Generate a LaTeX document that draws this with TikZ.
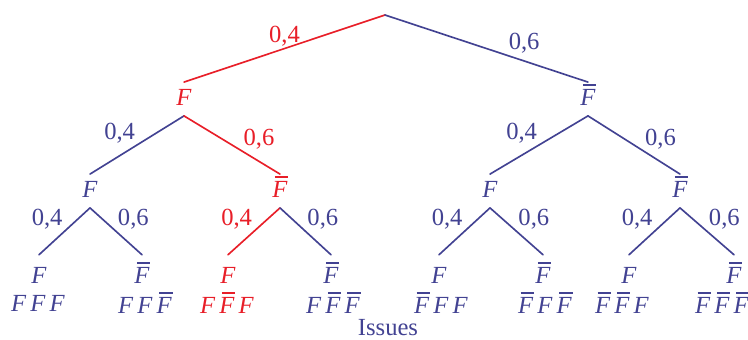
\documentclass[tikz,border=0pt]{standalone}
\usepackage{fontspec}
\setmainfont{Liberation Serif}
\usepackage{tikz}
\definecolor{bleu}{RGB}{66,66,146}
\definecolor{rouge}{RGB}{232,30,40}
\newcommand{\Fi}{\textit{F}}
% F barre : trait pose a la main au-dessus du F italique
\newcommand{\Fb}{\makebox[0pt][l]{\hspace{0.1em}\rule[0.8em]{0.55em}{0.07em}}\textit{F}}
\tikzset{
  etat/.style={text height=0.45cm,text depth=0.05cm,inner xsep=1pt,inner ysep=0.25cm},
  feuille/.style={etat,inner ysep=0.41cm},
  issue/.style={inner sep=1pt},
  branche/.style={line width=1.4pt},
  proba/.style={inner sep=1pt},
}
\begin{document}
\begin{tikzpicture}[line cap=round,line join=round,x=0.03cm,y=0.03cm,bleu,font=\fontsize{21}{24}\selectfont]
\useasboundingbox (0,0) rectangle (748,340);
\coordinate (r) at (385,325);
% premier tirage
\node [etat,rouge] (F) at (184,241) {\Fi};
\node [etat] (B) at (588,241) {\Fb};
% second tirage
\node [etat] (FF) at (90,149) {\Fi};
\node [etat,rouge] (FB) at (280,149) {\Fb};
\node [etat] (BF) at (490,149) {\Fi};
\node [etat] (BB) at (680,149) {\Fb};
% troisieme tirage
\node [feuille] (FFF) at (39,63) {\Fi};
\node [feuille] (FFB) at (142,63) {\Fb};
\node [feuille,rouge] (FBF) at (228,63) {\Fi};
\node [feuille] (FBB) at (331,63) {\Fb};
\node [feuille] (BFF) at (439,63) {\Fi};
\node [feuille] (BFB) at (543,63) {\Fb};
\node [feuille] (BBF) at (629,63) {\Fi};
\node [feuille] (BBB) at (734,63) {\Fb};
% issues
\node [issue] (iFFF) at (38,37) {\Fi\,\Fi\,\Fi};
\node [issue] (iFFB) at (145,37) {\Fi\,\Fi\,\Fb};
\node [issue,rouge] (iFBF) at (227,37) {\Fi\,\Fb\,\Fi};
\node [issue] (iFBB) at (333,37) {\Fi\,\Fb\,\Fb};
\node [issue] (iBFF) at (441,37) {\Fb\,\Fi\,\Fi};
\node [issue] (iBFB) at (545,37) {\Fb\,\Fi\,\Fb};
\node [issue] (iBBF) at (622,37) {\Fb\,\Fb\,\Fi};
\node [issue] (iBBB) at (722,37) {\Fb\,\Fb\,\Fb};
\node (titre) at (388,12) {Issues};
% branches
\draw [branche,rouge] (r) -- node [proba,above] {0,4} (F.north);
\draw [branche] (r) -- node [proba,above right,pos=0.6] {0,6} (B.north);
\draw [branche] (F.south) -- node [proba,above left] {0,4} (FF.north);
\draw [branche,rouge] (F.south) -- node [proba,above right,pos=0.6] {0,6} (FB.north);
\draw [branche] (B.south) -- node [proba,above left] {0,4} (BF.north);
\draw [branche] (B.south) -- node [proba,above right,pos=0.6] {0,6} (BB.north);
\draw [branche] (FF.south) -- node [proba,above left] {0,4} (FFF.north);
\draw [branche] (FF.south) -- node [proba,above right] {0,6} (FFB.north);
\draw [branche,rouge] (FB.south) -- node [proba,above left] {0,4} (FBF.north);
\draw [branche] (FB.south) -- node [proba,above right] {0,6} (FBB.north);
\draw [branche] (BF.south) -- node [proba,above left] {0,4} (BFF.north);
\draw [branche] (BF.south) -- node [proba,above right] {0,6} (BFB.north);
\draw [branche] (BB.south) -- node [proba,above left] {0,4} (BBF.north);
\draw [branche] (BB.south) -- node [proba,above right] {0,6} (BBB.north);
\end{tikzpicture}
\end{document}
